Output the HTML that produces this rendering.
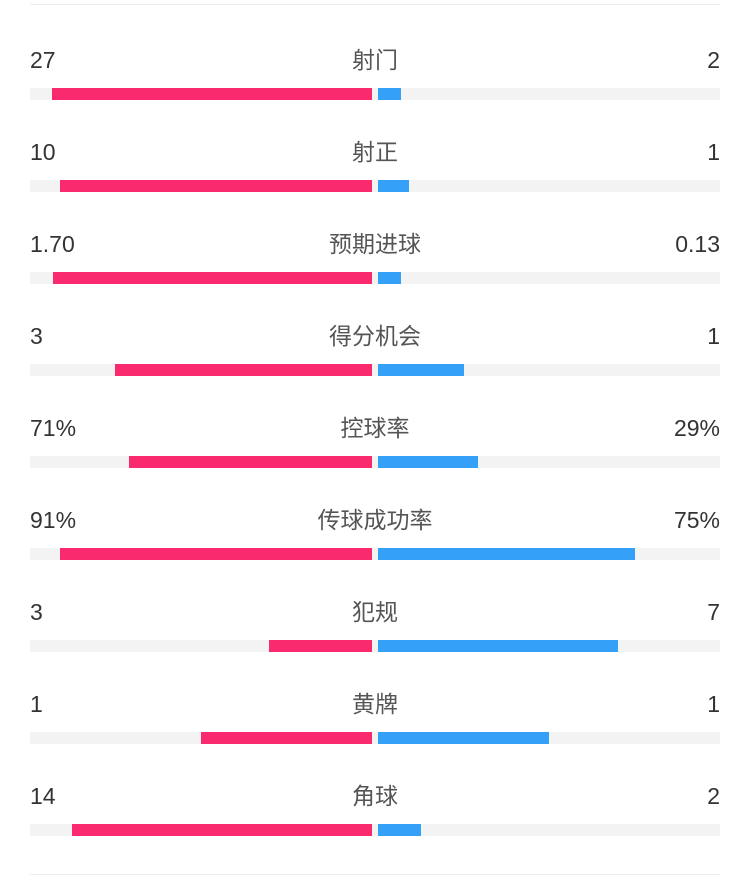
<!DOCTYPE html>
<html><head><meta charset="utf-8"><style>
body{margin:0;width:750px;height:879px;background:#fff;position:relative;overflow:hidden;font-family:"Liberation Sans","Noto Sans CJK SC",sans-serif}
.l{position:absolute;font-size:23px;color:#333;line-height:30px}
.c{position:absolute;left:0;width:750px;text-align:center;font-size:23px;color:#555;line-height:30px}
.t{position:absolute;left:30px;width:690px;height:12px;background:#f3f3f3}
.p{position:absolute;height:12px;background:#fa2a6e}
.b{position:absolute;height:12px;background:#35a0f8}
.hr{position:absolute;left:30px;width:690px;height:1px;background:#eee}
</style></head><body>
<div class="hr" style="top:4px"></div>
<div class="hr" style="top:874px"></div>
<div id="r"></div>
<script>
var d=[["27","射门","2",52,401],["10","射正","1",60,409],["1.70","预期进球","0.13",53,401],["3","得分机会","1",115,464],["71%","控球率","29%",129,478],["91%","传球成功率","75%",60,635],["3","犯规","7",269,618],["1","黄牌","1",201,549],["14","角球","2",72,421]];
var h="";d.forEach(function(r,i){var y=45+i*92,by=88+i*92;
h+='<div class="l" style="left:30px;top:'+y+'px">'+r[0]+'</div><div class="c" style="top:'+y+'px">'+r[1]+'</div><div class="l" style="right:30px;top:'+y+'px">'+r[2]+'</div>';
h+='<div class="t" style="top:'+by+'px"></div><div class="p" style="top:'+by+'px;left:'+r[3]+'px;width:'+(372-r[3])+'px"></div><div class="b" style="top:'+by+'px;left:378px;width:'+(r[4]-378)+'px"></div>';});
document.getElementById("r").innerHTML=h;
</script>
</body></html>
